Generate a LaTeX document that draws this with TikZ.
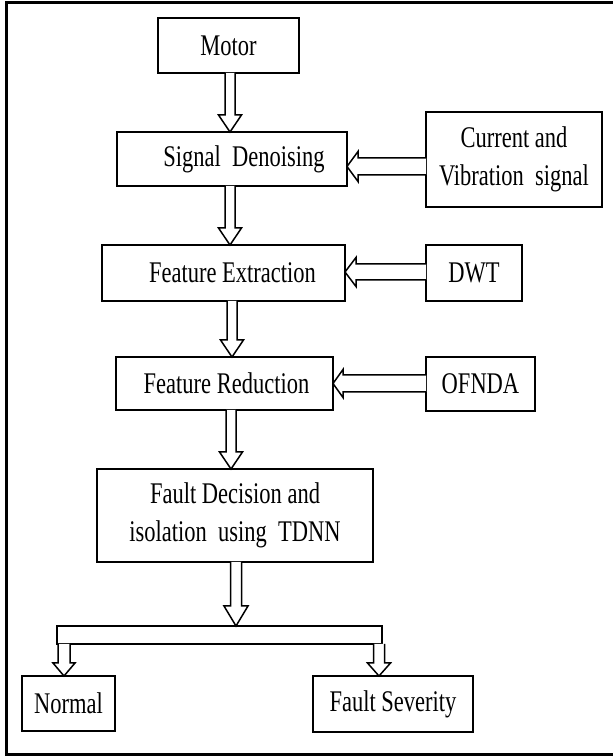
\documentclass[tikz,border=0pt]{standalone}
\usepackage{fontspec}
\setmainfont{Liberation Serif}[FakeStretch=0.75]
\usetikzlibrary{calc}
\tikzset{
  box/.style={draw=black, line width=1.6pt, fill=white, inner sep=0pt, outer sep=0pt,
    align=center, font=\fontsize{30}{38}\selectfont},
  blk/.style={draw=black, line width=1.5pt, fill=white, line join=miter},
  frame/.style={draw=black, line width=3pt}
}
% vertical block arrow: #1 start, #2 end, #3 shaft half width, #4 head half width, #5 head length
\newcommand{\vblk}[5]{%
  \path[blk] let \p1=#1, \p2=#2 in
    (\x1-#3,\y1) -- (\x1-#3,\y2+#5) -- (\x1-#4,\y2+#5) -- (\x1,\y2)
    -- (\x1+#4,\y2+#5) -- (\x1+#3,\y2+#5) -- (\x1+#3,\y1);}
% leftward block arrow
\newcommand{\hblk}[5]{%
  \path[blk] let \p1=#1, \p2=#2 in
    (\x1,\y1+#3) -- (\x2+#5,\y1+#3) -- (\x2+#5,\y1+#4) -- (\x2,\y1)
    -- (\x2+#5,\y1-#4) -- (\x2+#5,\y1-#3) -- (\x1,\y1-#3);}
\begin{document}
\begin{tikzpicture}[x=1pt,y=1pt]
\useasboundingbox (0,0) rectangle (613,756);
\draw[frame] (614,753.5) -- (6,753.5) -- (6,1.5) -- (614,1.5);

\node[box, minimum width=141pt, minimum height=55pt] (motor) at (228.5,710.5) {Motor};
\node[box, minimum width=230pt, minimum height=54pt] (sd) at (232,597) {\hspace*{24pt}Signal\ \ Denoising};
\node[box, minimum width=176pt, minimum height=95pt] (cur) at (514,596.5) {Current and\\Vibration\ \ signal};
\node[box, minimum width=243pt, minimum height=56pt] (fe) at (223.5,483) {\hspace*{18pt}Feature Extraction};
\node[box, minimum width=96pt, minimum height=56pt] (dwt) at (474,483) {DWT};
\node[box, minimum width=217pt, minimum height=53pt] (fr) at (224.5,372.5) {\hspace*{4pt}Feature Reduction};
\node[box, minimum width=109pt, minimum height=54pt] (ofnda) at (480.5,372) {OFNDA};
\node[box, minimum width=276pt, minimum height=93pt] (fd) at (235,240.5) {Fault Decision and\\isolation\ \ using\ \ TDNN};
\node[box, minimum width=325pt, minimum height=18pt] (bar) at (219.5,121) {};
\node[box, minimum width=93pt, minimum height=55pt] (normal) at (68.5,52.5) {Normal};
\node[box, minimum width=160pt, minimum height=56pt] (fs) at (393,52) {Fault Severity};

% x positions of the vertical arrows, y positions of the horizontal ones
\coordinate (a1) at (230,0);
\coordinate (a2) at (230,0);
\coordinate (a3) at (232,0);
\coordinate (a4) at (231,0);
\coordinate (a5) at (236,0);
\coordinate (a6) at (64,0);
\coordinate (a7) at (379,0);
\coordinate (h1) at (0,589.5);
\coordinate (h2) at (0,484);
\coordinate (h3) at (0,372.5);

\vblk{(motor.south -| a1)}{(sd.north -| a1)}{5pt}{11.5pt}{17pt}
\vblk{(sd.south -| a2)}{(fe.north -| a2)}{5pt}{11.5pt}{17pt}
\vblk{(fe.south -| a3)}{(fr.north -| a3)}{5pt}{11.5pt}{17pt}
\vblk{(fr.south -| a4)}{(fd.north -| a4)}{5pt}{11.5pt}{17pt}
\vblk{(fd.south -| a5)}{(bar.north -| a5)}{5.5pt}{12pt}{20pt}
\vblk{(bar.south -| a6)}{(normal.north -| a6)}{6pt}{11pt}{13pt}
\vblk{(bar.south -| a7)}{(fs.north -| a7)}{5.5pt}{11.5pt}{13pt}

\hblk{(cur.west |- h1)}{(sd.east |- h1)}{8.5pt}{15pt}{11pt}
\hblk{(dwt.west |- h2)}{(fe.east |- h2)}{8pt}{14.5pt}{11pt}
\hblk{(ofnda.west |- h3)}{(fr.east |- h3)}{8.5pt}{14pt}{10pt}
\end{tikzpicture}
\end{document}
